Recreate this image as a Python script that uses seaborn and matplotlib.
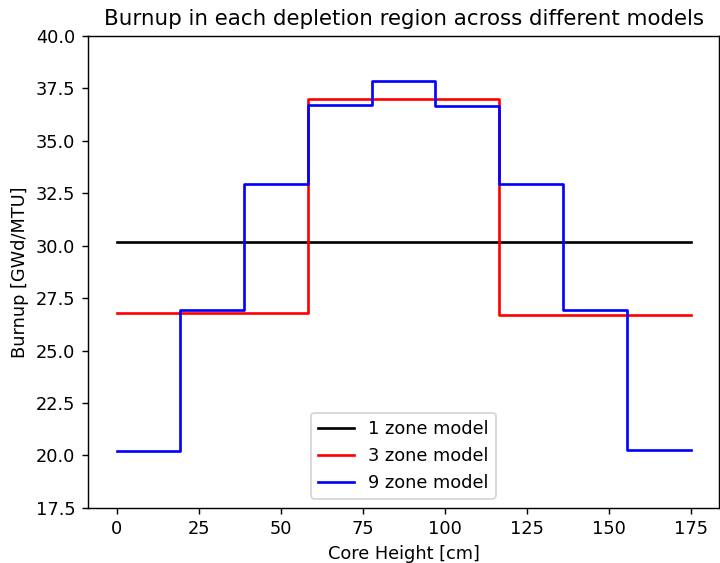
import matplotlib
matplotlib.use("Agg")
import matplotlib.pyplot as plt
import seaborn as sns

# Zone boundaries along the core height [cm]
edges_1 = [0, 175]
edges_3 = [0, 58.33, 116.67, 175]
edges_9 = [0, 19.44, 38.89, 58.33, 77.78, 97.22, 116.67, 136.11, 155.56, 175]

# Burnup per zone [GWd/MTU]
burnup_1 = [30.2]
burnup_3 = [26.8, 37.0, 26.7]
burnup_9 = [20.2, 26.95, 32.95, 36.7, 37.85, 36.65, 32.95, 26.95, 20.25]

models = [
    ("1 zone model", edges_1, burnup_1, "black"),
    ("3 zone model", edges_3, burnup_3, "red"),
    ("9 zone model", edges_9, burnup_9, "blue"),
]

DPI = 128
fig, ax = plt.subplots(figsize=(720 / DPI, 563 / DPI), dpi=DPI)
fig.subplots_adjust(left=0.122, right=0.999, top=0.936, bottom=0.098)

for label, edges, vals, color in models:
    # repeat last value so the final step reaches the top edge
    sns.lineplot(x=edges, y=vals + [vals[-1]], drawstyle="steps-post",
                 color=color, label=label, ax=ax, linewidth=1.5)

ax.set_ylim(17.5, 40.0)
ax.set_title("Burnup in each depletion region across different models")
ax.set_xlabel("Core Height [cm]")
ax.set_ylabel("Burnup [GWd/MTU]")
ax.legend(loc="lower center")

plt.savefig("out.png", dpi=DPI)
